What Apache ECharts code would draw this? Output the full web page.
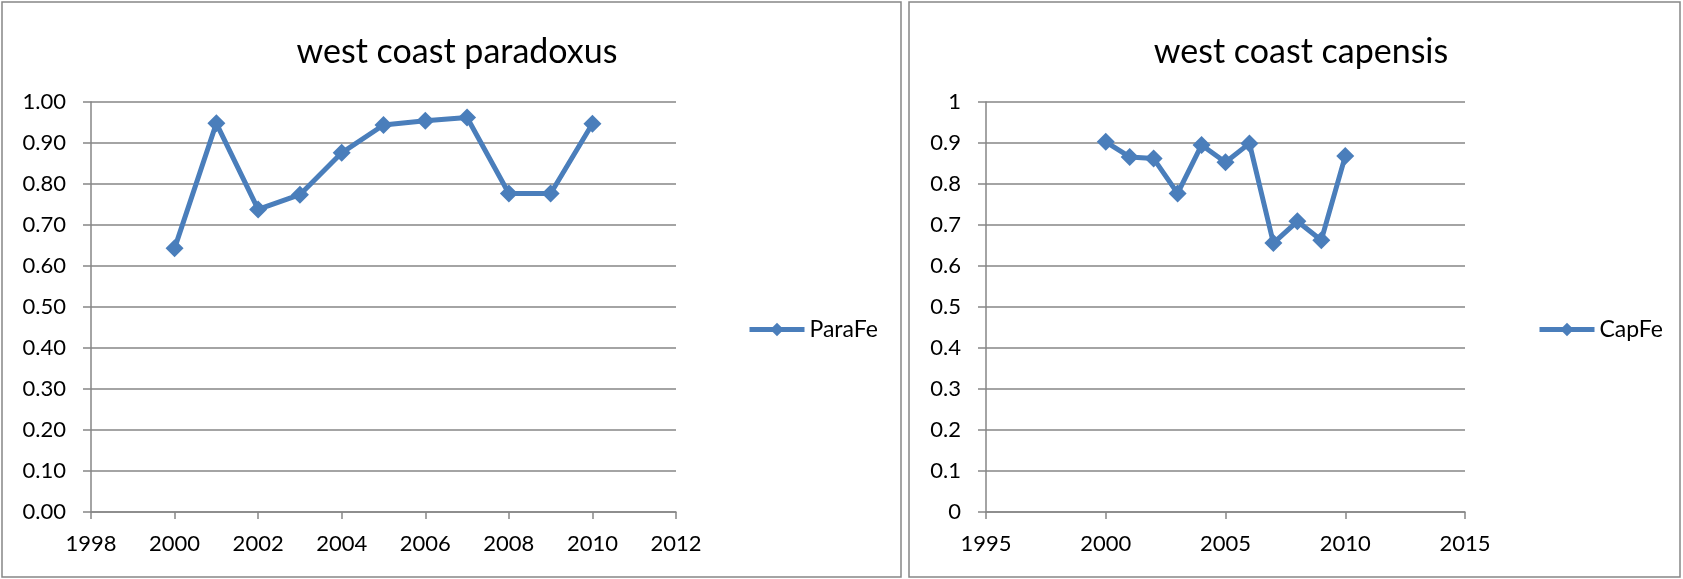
<!DOCTYPE html>
<html>
<head>
<meta charset="utf-8">
<script src="https://cdn.jsdelivr.net/npm/echarts@6/dist/echarts.min.js"></script>
<style>
  html, body { margin: 0; padding: 0; background: #fff; }
  #graph { width: 1683px; height: 579px; }
</style>
</head>
<body>
<div id="graph"></div>
<script>
// west coast paradoxus
const paraYears = [2000, 2001, 2002, 2003, 2004, 2005, 2006, 2007, 2008, 2009, 2010];
const paraFe = [0.643, 0.948, 0.738, 0.774, 0.876, 0.944, 0.954, 0.962, 0.777, 0.777, 0.947];

// west coast capensis
const capYears = [2000, 2001, 2002, 2003, 2004, 2005, 2006, 2007, 2008, 2009, 2010];
const capFe = [0.903, 0.866, 0.862, 0.777, 0.895, 0.853, 0.899, 0.656, 0.709, 0.663, 0.868];

const titles = ['west coast paradoxus', 'west coast capensis'];
const seriesNames = ['ParaFe', 'CapFe'];

const font = 'Lato';
const gray = '#868686';
const blue = '#4a7ebb';

function pairs(xs, ys) {
  let out = [];
  for (let i = 0; i < xs.length; i++) {
    out.push([xs[i], ys[i]]);
  }
  return out;
}

function xAxis(gridIndex, min, max, interval) {
  return {
    type: 'value',
    gridIndex: gridIndex,
    min: min,
    max: max,
    interval: interval,
    splitLine: {show: false},
    axisLine: {show: true, lineStyle: {color: gray, width: 1.5}},
    axisTick: {show: true, length: 7, lineStyle: {color: gray, width: 1.5}},
    axisLabel: {
      margin: 21,
      color: '#000',
      fontFamily: font,
      fontSize: 22,
      formatter: v => String(v)
    }
  };
}

function yAxis(gridIndex, digits) {
  return {
    type: 'value',
    gridIndex: gridIndex,
    min: 0,
    max: 1,
    interval: 0.1,
    axisLine: {show: true, lineStyle: {color: gray, width: 1.5}},
    axisTick: {show: true, length: 8, lineStyle: {color: gray, width: 1.5}},
    splitLine: {show: true, lineStyle: {color: gray, width: 1.5}},
    axisLabel: {
      margin: 25,
      color: '#000',
      fontFamily: font,
      fontSize: 22,
      formatter: v => digits ? v.toFixed(digits) : String(Math.round(v * 10) / 10)
    }
  };
}

function lineSeries(name, index, data) {
  return {
    name: name,
    type: 'line',
    xAxisIndex: index,
    yAxisIndex: index,
    data: data,
    symbol: 'diamond',
    symbolSize: 18,
    showAllSymbol: true,
    animation: false,
    lineStyle: {color: blue, width: 5},
    itemStyle: {color: blue}
  };
}

function legend(name, left) {
  return {
    data: [name],
    left: left,
    top: 313,
    itemWidth: 55,
    itemHeight: 17,
    itemGap: 5,
    lineStyle: {width: 5, color: blue},
    itemStyle: {color: blue},
    textStyle: {fontFamily: font, fontSize: 23, color: '#000'}
  };
}

let myChart = echarts.init(document.getElementById('graph'));
myChart.setOption({
  backgroundColor: '#fff',
  animation: false,
  title: [
    {
      text: titles[0],
      left: 452,
      top: 30,
      textAlign: 'center',
      textStyle: {fontFamily: font, fontSize: 34, fontWeight: 'normal', color: '#000'}
    },
    {
      text: titles[1],
      left: 1296,
      top: 30,
      textAlign: 'center',
      textStyle: {fontFamily: font, fontSize: 34, fontWeight: 'normal', color: '#000'}
    }
  ],
  legend: [
    legend(seriesNames[0], 742),
    legend(seriesNames[1], 1532)
  ],
  grid: [
    {left: 91, top: 102, width: 585, height: 410},
    {left: 986, top: 102, width: 479, height: 410}
  ],
  xAxis: [
    xAxis(0, 1998, 2012, 2),
    xAxis(1, 1995, 2015, 5)
  ],
  yAxis: [
    yAxis(0, 2),
    yAxis(1, 0)
  ],
  series: [
    lineSeries(seriesNames[0], 0, pairs(paraYears, paraFe)),
    lineSeries(seriesNames[1], 1, pairs(capYears, capFe))
  ],
  graphic: [
    {
      type: 'rect',
      shape: {x: 2, y: 2, width: 899, height: 575},
      style: {fill: 'none', stroke: gray, lineWidth: 1.5},
      silent: true
    },
    {
      type: 'rect',
      shape: {x: 909, y: 2, width: 771, height: 575},
      style: {fill: 'none', stroke: gray, lineWidth: 1.5},
      silent: true
    }
  ]
});
</script>
</body>
</html>
